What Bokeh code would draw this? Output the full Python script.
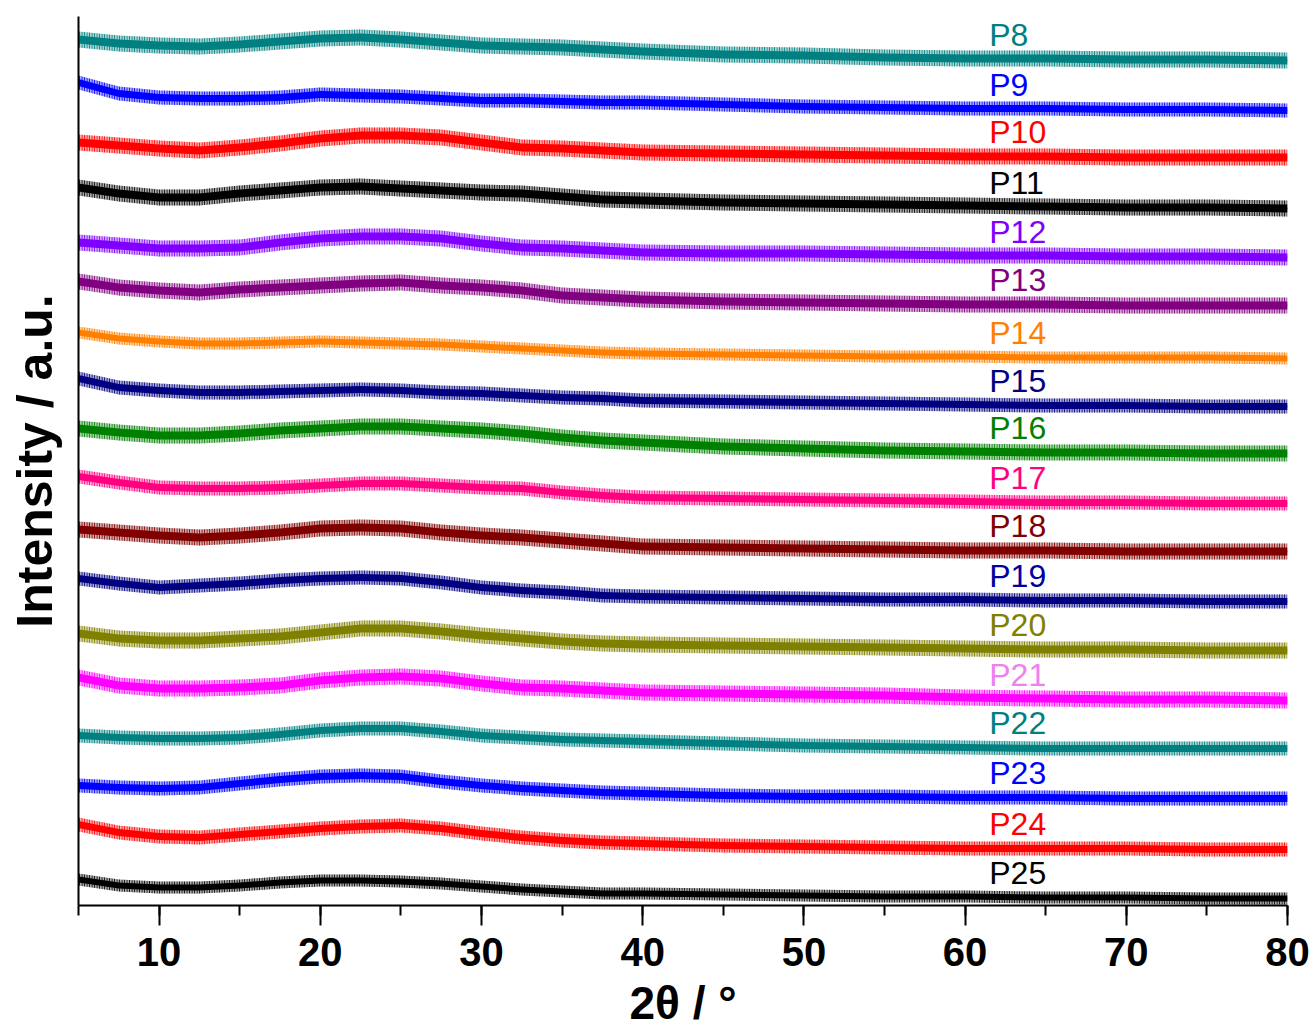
from bokeh.plotting import figure
from bokeh.models import SingleIntervalTicker, FixedTicker, Range1d, ColumnDataSource
from bokeh.embed import file_html
from bokeh.resources import INLINE
from bokeh.core.properties import value

# 2theta sample positions (degrees)
two_theta = [5, 7.5, 10, 12.5, 15, 17.5, 20, 22.5, 25, 27.5, 30, 32.5, 35, 37.5, 40,
             45, 50, 55, 60, 65, 70, 75, 80]

# stacked intensities (a.u., offset included)
P8 = [866, 862, 860, 859, 861, 864, 867, 868, 866, 863, 860, 859, 858, 856, 854, 851, 850, 848, 847, 847, 846, 846, 845]
P9 = [823, 812, 808, 807, 807, 808, 811, 810, 809, 807, 805, 805, 804, 803, 803, 801, 799, 798, 797, 797, 796, 796, 795]
P10 = [763, 760, 757, 755, 758, 762, 767, 770, 770, 768, 763, 758, 757, 755, 753, 752, 751, 750, 749, 749, 748, 748, 748]
P11 = [718, 712, 708, 708, 712, 715, 718, 719, 717, 715, 713, 712, 709, 706, 705, 703, 702, 701, 700, 699, 698, 698, 697]
P12 = [663, 660, 657, 657, 658, 663, 667, 669, 669, 667, 662, 658, 657, 655, 653, 652, 652, 651, 650, 650, 649, 649, 648]
P13 = [624, 618, 615, 613, 616, 618, 620, 622, 623, 620, 618, 615, 610, 608, 606, 604, 603, 602, 601, 601, 600, 600, 600]
P14 = [573, 567, 564, 562, 562, 563, 564, 563, 562, 561, 559, 557, 555, 553, 552, 551, 550, 549, 549, 548, 548, 548, 547]
P15 = [527, 518, 515, 513, 513, 514, 515, 516, 515, 513, 512, 510, 508, 507, 505, 504, 503, 502, 501, 500, 500, 499, 499]
P16 = [477, 473, 470, 470, 472, 475, 477, 479, 479, 477, 475, 472, 468, 465, 463, 459, 457, 455, 454, 453, 453, 452, 452]
P17 = [429, 423, 418, 417, 417, 418, 420, 422, 422, 420, 418, 417, 413, 410, 408, 407, 406, 405, 404, 403, 403, 402, 402]
P18 = [376, 373, 370, 368, 370, 373, 377, 378, 377, 373, 370, 368, 365, 362, 359, 358, 357, 356, 355, 355, 354, 354, 354]
P19 = [327, 322, 318, 320, 322, 325, 327, 328, 327, 323, 318, 315, 313, 310, 309, 308, 307, 306, 306, 305, 305, 304, 304]
P20 = [272, 267, 265, 265, 267, 269, 273, 277, 277, 274, 270, 267, 264, 262, 261, 260, 259, 258, 257, 256, 256, 255, 255]
P21 = [228, 220, 217, 217, 218, 220, 225, 228, 229, 227, 222, 218, 217, 215, 213, 212, 211, 210, 208, 207, 206, 206, 205]
P22 = [170, 168, 167, 167, 168, 171, 175, 177, 177, 174, 170, 168, 166, 165, 164, 162, 160, 159, 158, 157, 157, 157, 157]
P23 = [120, 118, 117, 118, 122, 126, 129, 130, 129, 124, 120, 117, 115, 113, 112, 110, 109, 109, 108, 108, 107, 107, 107]
P24 = [81, 73, 69, 68, 71, 74, 77, 79, 80, 77, 72, 68, 65, 63, 62, 60, 59, 58, 57, 57, 57, 56, 56]
P25 = [26, 20, 18, 18, 20, 23, 25, 25, 24, 22, 19, 16, 14, 12, 12, 11, 10, 9, 9, 8, 8, 7, 7]

sample_names = ["P8", "P9", "P10", "P11", "P12", "P13", "P14", "P15", "P16",
                "P17", "P18", "P19", "P20", "P21", "P22", "P23", "P24", "P25"]
series = [P8, P9, P10, P11, P12, P13, P14, P15, P16, P17, P18, P19, P20, P21, P22, P23, P24, P25]
# noise half-amplitude of each pattern (a.u.)
noise_amp = [8, 7, 8, 8, 8, 8, 6, 7, 8, 7, 8, 7, 8, 8, 7, 7, 7, 6]

colors = ["#008080", "#0000FF", "#FF0000", "#000000", "#8000FF", "#800080",
          "#FF8000", "#000080", "#008000", "#FF0080", "#800000", "#000080",
          "#808000", "#FF00FF", "#008080", "#0000FF", "#FF0000", "#000000"]
label_colors = ["#008080", "#0000FF", "#FF0000", "#000000", "#8000FF", "#800080",
                "#FF8000", "#000080", "#008000", "#FF0080", "#800000", "#0000A0",
                "#808000", "#F080F0", "#008080", "#0000FF", "#FF0000", "#000000"]

p = figure(width=1311, height=1033, output_backend="svg", toolbar_location=None,
           x_range=Range1d(5, 80), y_range=Range1d(0, 889),
           min_border_left=78, min_border_right=24, min_border_top=16, min_border_bottom=128)
p.outline_line_color = None
p.xgrid.visible = False
p.ygrid.visible = False
p.background_fill_color = "white"

for name, ys, amp, col in zip(sample_names, series, noise_amp, colors):
    lo = [v - amp for v in ys]
    hi = [v + amp for v in ys]
    lo_core = [v - amp * 0.5 for v in ys]
    hi_core = [v + amp * 0.5 for v in ys]
    p.varea(x=two_theta, y1=lo, y2=hi, fill_color=col, fill_alpha=0.35,
            hatch_pattern="|", hatch_color=col, hatch_alpha=1.0, hatch_scale=2.5, hatch_weight=1)
    p.varea(x=two_theta, y1=lo_core, y2=hi_core, fill_color=col, fill_alpha=1.0)
    p.line(x=two_theta, y=ys, line_color=col, line_width=1.5)

label_x = [61.5] * len(sample_names)
label_y = [ys[-1] + 26 for ys in series]
src = ColumnDataSource(dict(x=label_x, y=label_y, t=sample_names, c=label_colors))
p.text(x="x", y="y", text="t", text_color="c", source=src, text_font=value("Liberation Sans"),
       text_font_size="32px", text_baseline="middle", text_align="left")

xa = p.xaxis[0]
xa.ticker = SingleIntervalTicker(interval=10, num_minor_ticks=2)
xa.axis_line_width = 2
xa.axis_line_color = "black"
xa.major_tick_line_width = 2
xa.minor_tick_line_width = 2
xa.major_tick_line_color = "black"
xa.minor_tick_line_color = "black"
xa.major_tick_out = 20
xa.major_tick_in = 0
xa.minor_tick_out = 10
xa.minor_tick_in = 0
xa.major_label_text_font = "Liberation Sans"
xa.major_label_text_font_style = "bold"
xa.major_label_text_font_size = "40px"
xa.major_label_text_color = "black"
xa.major_label_standoff = 12
xa.axis_label = "2θ / °"
xa.axis_label_text_font = "Liberation Sans"
xa.axis_label_text_font_style = "bold"
xa.axis_label_text_font_size = "46px"
xa.axis_label_text_color = "black"
xa.axis_label_standoff = 8

ya = p.yaxis[0]
ya.ticker = FixedTicker(ticks=[])
ya.axis_line_width = 2
ya.axis_line_color = "black"
ya.major_tick_line_color = None
ya.minor_tick_line_color = None
ya.major_label_text_font_size = "0px"
ya.axis_label = "Intensity / a.u."
ya.axis_label_text_font = "Liberation Sans"
ya.axis_label_text_font_style = "bold"
ya.axis_label_text_font_size = "50px"
ya.axis_label_text_color = "black"
ya.axis_label_standoff = 16

open("out.html", "w").write(file_html(p, INLINE))
